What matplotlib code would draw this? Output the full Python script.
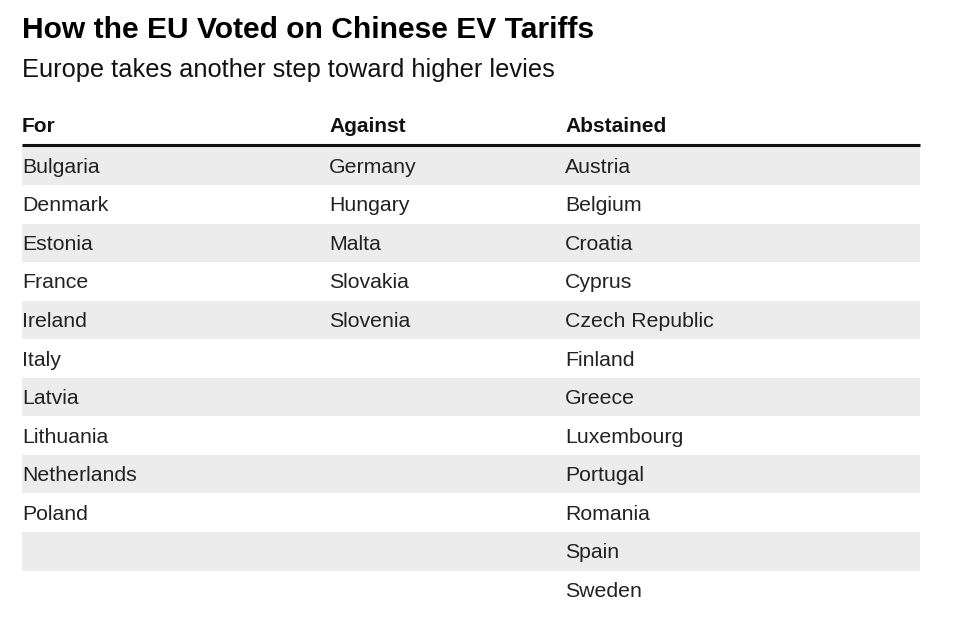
import matplotlib.pyplot as plt
from matplotlib.patches import Rectangle

plt.rcParams['font.family'] = ['Liberation Sans', 'DejaVu Sans']

title = 'How the EU Voted on Chinese EV Tariffs'
subtitle = 'Europe takes another step toward higher levies'

headers = ['For', 'Against', 'Abstained']
voted_for = ['Bulgaria', 'Denmark', 'Estonia', 'France', 'Ireland', 'Italy',
             'Latvia', 'Lithuania', 'Netherlands', 'Poland']
voted_against = ['Germany', 'Hungary', 'Malta', 'Slovakia', 'Slovenia']
abstained = ['Austria', 'Belgium', 'Croatia', 'Cyprus', 'Czech Republic', 'Finland',
             'Greece', 'Luxembourg', 'Portugal', 'Romania', 'Spain', 'Sweden']

columns = [voted_for, voted_against, abstained]
n_rows = max(len(c) for c in columns)

W, H = 960, 619
fig = plt.figure(figsize=(W / 100, H / 100), dpi=100)
ax = fig.add_axes([0, 0, 1, 1])
ax.set_xlim(0, W)
ax.set_ylim(H, 0)
ax.axis('off')

left, right = 22, 920
col_x = [22, 329, 565]
line_y = 145
row_top = 146.5
row_h = 38.55

# titles
ax.text(left, 38, title, fontsize=21.6, fontweight='bold', color='#000000',
        va='baseline', ha='left')
ax.text(left, 77, subtitle, fontsize=18.3, color='#111111', va='baseline', ha='left')

# header
for x, h in zip(col_x, headers):
    ax.text(x, 132, h, fontsize=15, fontweight='bold', color='#111111',
            va='baseline', ha='left')
ax.plot([left, right], [line_y, line_y], color='#111111', lw=2.2,
        solid_capstyle='butt')

# zebra stripes
for i in range(n_rows):
    if i % 2 == 0:
        ax.add_patch(Rectangle((left, row_top + i * row_h), right - left, row_h,
                               facecolor='#ececec', edgecolor='none', zorder=0))

# cells
for x, col in zip(col_x, columns):
    for i, name in enumerate(col):
        ax.text(x, row_top + (i + 0.5) * row_h + 7, name, fontsize=15.3,
                color='#222222', va='baseline', ha='left')

fig.savefig('out.png', dpi=100)
